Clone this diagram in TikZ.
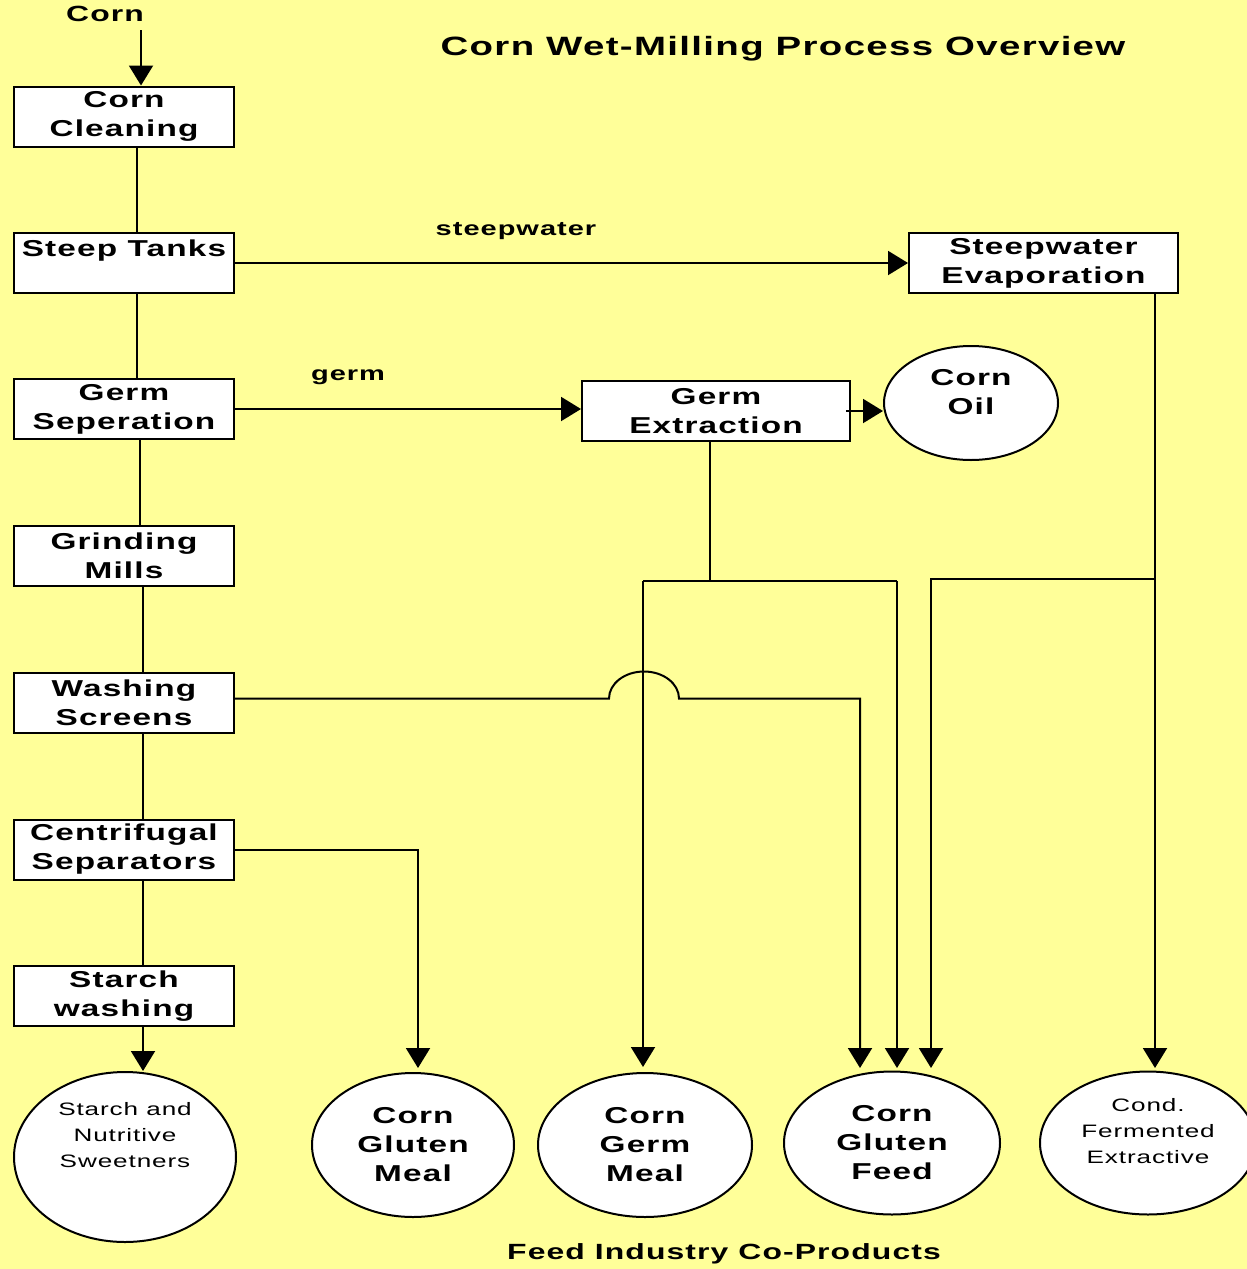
\documentclass[tikz,border=0pt]{standalone}
\usepackage{fontspec}
\setmainfont{Liberation Sans}[FakeStretch=1.45, LetterSpace=5]
\usepackage{tikz}
\usetikzlibrary{arrows.meta, shapes.geometric}
\definecolor{paper}{RGB}{255,255,153}

\tikzset{
  stage/.style={draw, line width=2pt, fill=white, minimum width=220pt,
    minimum height=60pt, inner sep=0pt, align=center,
    font=\bfseries\fontsize{23}{29}\selectfont},
  product/.style={draw, ellipse, line width=2pt, fill=white, inner sep=0pt,
    align=center, font=\bfseries\fontsize{23}{29}\selectfont},
  plaintext/.style={align=center, font=\fontsize{18}{26}\selectfont},
  flow/.style={line width=2pt},
}

\begin{document}
\begin{tikzpicture}[x=1pt, y=-1pt, >={Triangle[length=20pt,width=24pt]}]
\fill[paper] (0,0) rectangle (1247,1269);
\useasboundingbox (0,0) rectangle (1247,1269);

\node[font=\bfseries\fontsize{26.5}{30}\selectfont] (title) at (783,49)%
{Corn Wet-Milling Process Overview};
\node[font=\bfseries\fontsize{22}{26}\selectfont] (corn) at (105,14)%
{Corn};

% process stages
\node[stage] (clean) at (124,116.5) {Corn\\Cleaning};
\node[stage] (steep) at (124,263) {Steep Tanks\\~};
\node[stage] (gsep) at (124,409) {Germ\\Seperation};
\node[stage] (grind) at (124,556) {Grinding\\Mills};
\node[stage] (wash) at (124,702.5) {Washing\\Screens};
\node[stage] (cent) at (124,849.5) {Centrifugal\\Separators};
\node[stage] (starch) at (124,996) {Starch\\washing};
\node[stage, minimum width=269pt] (evap) at (1043.5,263)%
{Steepwater\\Evaporation};
\node[stage, minimum width=268pt] (gext) at (716,411)%
{Germ\\Extraction};

% products
\node[product, minimum width=174pt, minimum height=114pt,
  label={[yshift=11pt, font=\bfseries\fontsize{23}{29}\selectfont, align=center]center:Corn\\Oil}]
  (oil) at (971,403) {};
\node[product, minimum width=222pt, minimum height=170pt,
  label={[plaintext, yshift=22pt]center:Starch and\\Nutritive\\Sweetners}]
  (sweet) at (125,1157) {};
\node[product, minimum width=202pt, minimum height=144pt] (cgm) at (413,1145)%
{Corn\\Gluten\\Meal};
\node[product, minimum width=214pt, minimum height=144pt] (germmeal) at (645,1145)%
{Corn\\Germ\\Meal};
\node[product, minimum width=216pt, minimum height=143pt] (cgf) at (892,1143)%
{Corn\\Gluten\\Feed};
\node[product, minimum width=216pt, minimum height=143pt,
  label={[plaintext, yshift=12pt]center:Cond.\\Fermented\\Extractive}]
  (cfe) at (1148,1143) {};

\node[font=\bfseries\fontsize{20}{23}\selectfont] (swlabel) at (516,231)%
{steepwater};
\node[font=\bfseries\fontsize{20}{23}\selectfont] (germlabel) at (348,377)%
{germ};
\node[font=\bfseries\fontsize{22}{26}\selectfont] (feedlabel) at (724,1254)%
{Feed Industry Co-Products};

% free ends
\coordinate (cin) at (141,30);
\coordinate (sa) at (143,1071);
\coordinate (gx) at (710,581);
\coordinate (ga) at (643,1067);
\coordinate (fa) at (860,1068);
\coordinate (fb) at (897,1068);
\coordinate (fc) at (931,1068);
\coordinate (ea) at (1155,1068);
\coordinate (eb) at (1155,579);
\coordinate (ma) at (418,1068);
\coordinate (hop) at (609,0);

% main line
\draw[flow, ->] (cin) -- ([xshift=17pt]clean.north);
\draw[flow] ([xshift=13pt]clean.south) -- ([xshift=13pt]steep.north);
\draw[flow] ([xshift=13pt]steep.south) -- ([xshift=13pt]gsep.north);
\draw[flow] ([xshift=16pt]gsep.south) -- ([xshift=16pt]grind.north);
\draw[flow] ([xshift=19pt]grind.south) -- ([xshift=19pt]wash.north);
\draw[flow] ([xshift=19pt]wash.south) -- ([xshift=19pt]cent.north);
\draw[flow] ([xshift=19pt]cent.south) -- ([xshift=19pt]starch.north);
\draw[flow, ->] ([xshift=19pt]starch.south) -- (sa);

% side streams
\draw[flow, ->] (steep.east) -- (evap.west);
\draw[flow, ->] (gsep.east) -- (gsep.east -| gext.west);
\draw[flow, ->] ([xshift=-5pt]gext.east) -- (oil.west |- gext.east);
\draw[flow] (gext.south -| gx) -- (gx);
\draw[flow] (ga |- gx) -- (fb |- gx);
\draw[flow, ->] (ga |- gx) -- (ga);
\draw[flow, ->] (fb |- gx) -- (fb);
\draw[flow, ->] (evap.south -| ea) -- (ea);
\draw[flow, ->] (eb) -| (fc);
\draw[flow, ->] ([yshift=4pt]wash.east) -- ([yshift=4pt]hop |- wash.east)
  arc[start angle=180, end angle=360, x radius=35, y radius=27]
  -- ([yshift=4pt]fa |- wash.east) -- (fa);
\draw[flow, ->] (cent.east) -| (ma);
\end{tikzpicture}
\end{document}
